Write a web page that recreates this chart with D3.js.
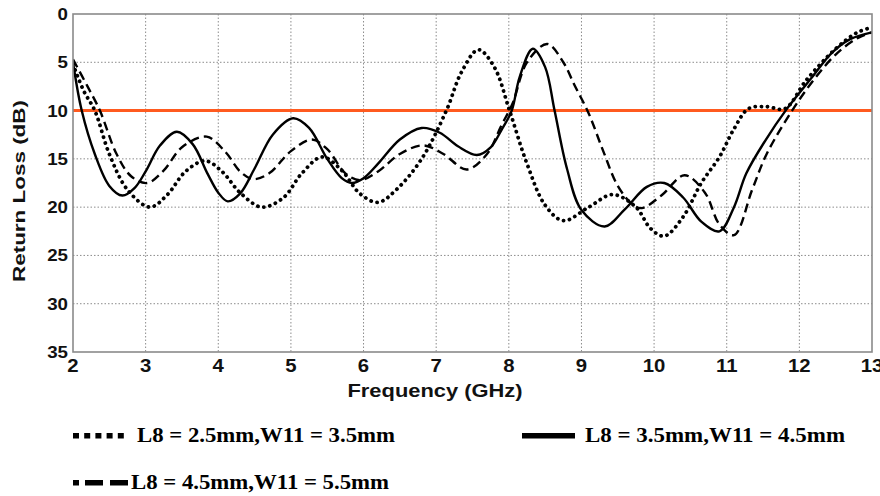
<!DOCTYPE html>
<html>
<head>
<meta charset="utf-8">
<script src="https://cdn.jsdelivr.net/npm/d3@7"></script>
<style>
  html, body { margin: 0; padding: 0; background: #fff; }
  svg { display: block; }
</style>
</head>
<body>
<svg id="chart" width="880" height="496"></svg>
<script>
// ---------------- DATA ----------------
const xTicks = [2, 3, 4, 5, 6, 7, 8, 9, 10, 11, 12, 13];
const yTicks = [0, 5, 10, 15, 20, 25, 30, 35];
const thresholdDb = 10;

const seriesNames = [
  "L8 = 2.5mm,W11 = 3.5mm",
  "L8 = 3.5mm,W11 = 4.5mm",
  "L8 = 4.5mm,W11 = 5.5mm"
];

// L8 = 2.5mm, W11 = 3.5mm (dotted)
const freqA = [2.0, 2.15, 2.3, 2.5, 2.75, 3.06, 3.3, 3.55, 3.82, 4.05, 4.3, 4.6, 4.9, 5.15, 5.43, 5.7, 5.95, 6.2, 6.45, 6.8, 7.14, 7.35, 7.58, 7.8, 8.01, 8.25, 8.5, 8.75, 9.1, 9.43, 9.75, 9.95, 10.14, 10.4, 10.65, 10.9, 11.1, 11.3, 11.55, 11.8, 12.1, 12.5, 12.8, 13.0];
const lossA = [5.2, 8.0, 10.0, 14.5, 18.2, 20.0, 18.7, 16.3, 15.2, 16.3, 18.5, 20.0, 19.0, 16.5, 14.8, 16.2, 18.6, 19.5, 18.2, 15.0, 10.0, 6.0, 3.7, 5.5, 10.0, 15.5, 19.8, 21.4, 20.0, 18.7, 20.0, 22.2, 23.0, 21.0, 17.5, 14.8, 11.9, 9.8, 9.6, 9.8, 6.8, 3.6, 1.9, 1.4];

// L8 = 3.5mm, W11 = 4.5mm (solid)
const freqB = [2.0, 2.12, 2.3, 2.5, 2.68, 2.85, 3.0, 3.2, 3.43, 3.65, 3.85, 4.0, 4.13, 4.3, 4.5, 4.75, 5.03, 5.25, 5.5, 5.7, 5.84, 6.0, 6.2, 6.5, 6.8, 7.05, 7.3, 7.56, 7.75, 7.9, 8.04, 8.15, 8.33, 8.5, 8.63, 8.8, 9.0, 9.32, 9.6, 9.9, 10.14, 10.4, 10.65, 10.9, 11.1, 11.27, 11.54, 11.82, 12.18, 12.45, 12.7, 13.0];
const lossB = [5.0, 10.0, 14.5, 17.8, 18.8, 18.0, 16.3, 13.6, 12.2, 13.5, 16.5, 18.5, 19.4, 18.6, 16.0, 12.5, 10.8, 11.8, 15.0, 17.0, 17.5, 17.0, 15.5, 13.0, 11.8, 12.3, 13.7, 14.6, 13.8, 12.0, 10.0, 6.5, 3.6, 5.5, 10.0, 16.0, 20.3, 22.0, 20.2, 17.9, 17.5, 19.0, 21.5, 22.5, 20.0, 16.5, 13.0, 9.9, 6.5, 4.0, 2.6, 1.9];

// L8 = 4.5mm, W11 = 5.5mm (dashed)
const freqC = [2.0, 2.2, 2.37, 2.6, 2.8, 3.02, 3.25, 3.5, 3.84, 4.1, 4.3, 4.48, 4.7, 5.0, 5.29, 5.5, 5.75, 5.95, 6.2, 6.5, 6.82, 7.1, 7.42, 7.7, 7.9, 8.05, 8.25, 8.53, 8.75, 8.9, 9.1, 9.3, 9.5, 9.7, 9.83, 10.1, 10.42, 10.7, 10.9, 11.1, 11.35, 11.55, 11.9, 12.2, 12.5, 12.8, 13.0];
const lossC = [4.7, 7.5, 10.0, 14.5, 16.8, 17.5, 16.2, 13.8, 12.7, 14.3, 16.3, 17.1, 16.5, 14.2, 13.0, 14.0, 16.5, 17.2, 16.3, 14.5, 13.6, 14.5, 16.1, 14.5, 11.5, 9.3, 5.0, 3.1, 5.0, 7.3, 10.3, 14.2, 17.8, 19.7, 20.1, 18.8, 16.7, 18.5, 21.8, 22.9, 18.2, 14.5, 10.0, 6.8, 4.2, 2.5, 1.9];

// ---------------- LAYOUT ----------------
const svg = d3.select("#chart");
const L = 73, R = 872, T = 14, B = 352;

const x = d3.scaleLinear().domain([2, 13]).range([L, R]);
const y = d3.scaleLinear().domain([0, 35]).range([T, B]);

const sans = "'Liberation Sans', Arial, sans-serif";
const serif = "'Liberation Serif', 'Times New Roman', serif";

function stretch(sel, factor) {
  sel.each(function () {
    const w = this.getComputedTextLength();
    d3.select(this).attr("textLength", w * factor).attr("lengthAdjust", "spacingAndGlyphs");
  });
}

// grid
const grid = svg.append("g");
grid.selectAll("line.vx").data(xTicks.slice(1, -1)).join("line")
  .attr("x1", d => x(d)).attr("x2", d => x(d))
  .attr("y1", T).attr("y2", B)
  .attr("stroke", "#8c8c8c").attr("stroke-width", 1).attr("stroke-dasharray", "1.5,2");
grid.selectAll("line.hy").data(yTicks.slice(1, -1)).join("line")
  .attr("x1", L).attr("x2", R)
  .attr("y1", d => y(d)).attr("y2", d => y(d))
  .attr("stroke", "#8c8c8c").attr("stroke-width", 1).attr("stroke-dasharray", "1.5,2");

// threshold line
svg.append("line")
  .attr("x1", L).attr("x2", R)
  .attr("y1", y(thresholdDb)).attr("y2", y(thresholdDb))
  .attr("stroke", "#ff5a1f").attr("stroke-width", 3);

// curves
svg.append("clipPath").attr("id", "clip").append("rect")
  .attr("x", L).attr("y", T).attr("width", R - L).attr("height", B - T);

const line = d3.line().x(d => x(d[0])).y(d => y(d[1])).curve(d3.curveCatmullRom.alpha(0.5));
const curves = svg.append("g").attr("clip-path", "url(#clip)");

const series = [
  { f: freqA, v: lossA, dash: "0.1,6", width: 3.8, cap: "round" },
  { f: freqB, v: lossB, dash: null, width: 2.4, cap: "butt" },
  { f: freqC, v: lossC, dash: "9,5", width: 2.4, cap: "butt" }
];
series.forEach(s => {
  curves.append("path")
    .datum(d3.zip(s.f, s.v))
    .attr("d", line)
    .attr("fill", "none")
    .attr("stroke", "#000")
    .attr("stroke-width", s.width)
    .attr("stroke-linecap", s.cap)
    .attr("stroke-dasharray", s.dash);
});

// frame
svg.append("rect")
  .attr("x", L).attr("y", T).attr("width", R - L).attr("height", B - T)
  .attr("fill", "none").attr("stroke", "#8a8a8a").attr("stroke-width", 1.6);

// y tick labels
const yl = svg.append("g").selectAll("text").data(yTicks).join("text")
  .attr("x", 68).attr("y", d => y(d) + 6)
  .attr("text-anchor", "end")
  .attr("font-family", sans).attr("font-weight", "bold").attr("font-size", 17)
  .attr("fill", "#111")
  .text(d => d);
stretch(yl, 1.1);

// x tick labels
const xl = svg.append("g").selectAll("text").data(xTicks).join("text")
  .attr("x", d => x(d)).attr("y", 372)
  .attr("text-anchor", "middle")
  .attr("font-family", sans).attr("font-weight", "bold").attr("font-size", 18.5)
  .attr("fill", "#111")
  .text(d => d);
stretch(xl, 1.1);

// axis titles
svg.append("text")
  .attr("x", 435).attr("y", 397)
  .attr("text-anchor", "middle")
  .attr("font-family", sans).attr("font-weight", "bold").attr("font-size", 17.5)
  .attr("fill", "#111")
  .attr("textLength", 175).attr("lengthAdjust", "spacingAndGlyphs")
  .text("Frequency (GHz)");

svg.append("text")
  .attr("transform", "translate(25,191) rotate(-90)")
  .attr("text-anchor", "middle")
  .attr("font-family", sans).attr("font-weight", "bold").attr("font-size", 17)
  .attr("fill", "#111")
  .attr("textLength", 182).attr("lengthAdjust", "spacingAndGlyphs")
  .text("Return Loss (dB)");

// legend
const leg = svg.append("g");
const dotXs = d3.range(5).map(i => 73 + i * 11.2);
leg.selectAll("rect.dot").data(dotXs).join("rect")
  .attr("x", d => d).attr("y", 433).attr("width", 6).attr("height", 5.5).attr("fill", "#000");
leg.append("text")
  .attr("x", 137).attr("y", 442)
  .attr("font-family", serif).attr("font-weight", "bold").attr("font-size", 22)
  .attr("fill", "#000")
  .attr("textLength", 258).attr("lengthAdjust", "spacingAndGlyphs")
  .text(seriesNames[0]);

leg.append("rect").attr("x", 522).attr("y", 433).attr("width", 53).attr("height", 5.5).attr("fill", "#000");
leg.append("text")
  .attr("x", 585).attr("y", 442)
  .attr("font-family", serif).attr("font-weight", "bold").attr("font-size", 22)
  .attr("fill", "#000")
  .attr("textLength", 260).attr("lengthAdjust", "spacingAndGlyphs")
  .text(seriesNames[1]);

leg.append("rect").attr("x", 73).attr("y", 480).attr("width", 6).attr("height", 5.5).attr("fill", "#000");
leg.append("rect").attr("x", 85).attr("y", 480).attr("width", 18).attr("height", 5.5).attr("fill", "#000");
leg.append("rect").attr("x", 110).attr("y", 480).attr("width", 18).attr("height", 5.5).attr("fill", "#000");
leg.append("text")
  .attr("x", 131).attr("y", 489)
  .attr("font-family", serif).attr("font-weight", "bold").attr("font-size", 22)
  .attr("fill", "#000")
  .attr("textLength", 258).attr("lengthAdjust", "spacingAndGlyphs")
  .text(seriesNames[2]);
</script>
</body>
</html>
